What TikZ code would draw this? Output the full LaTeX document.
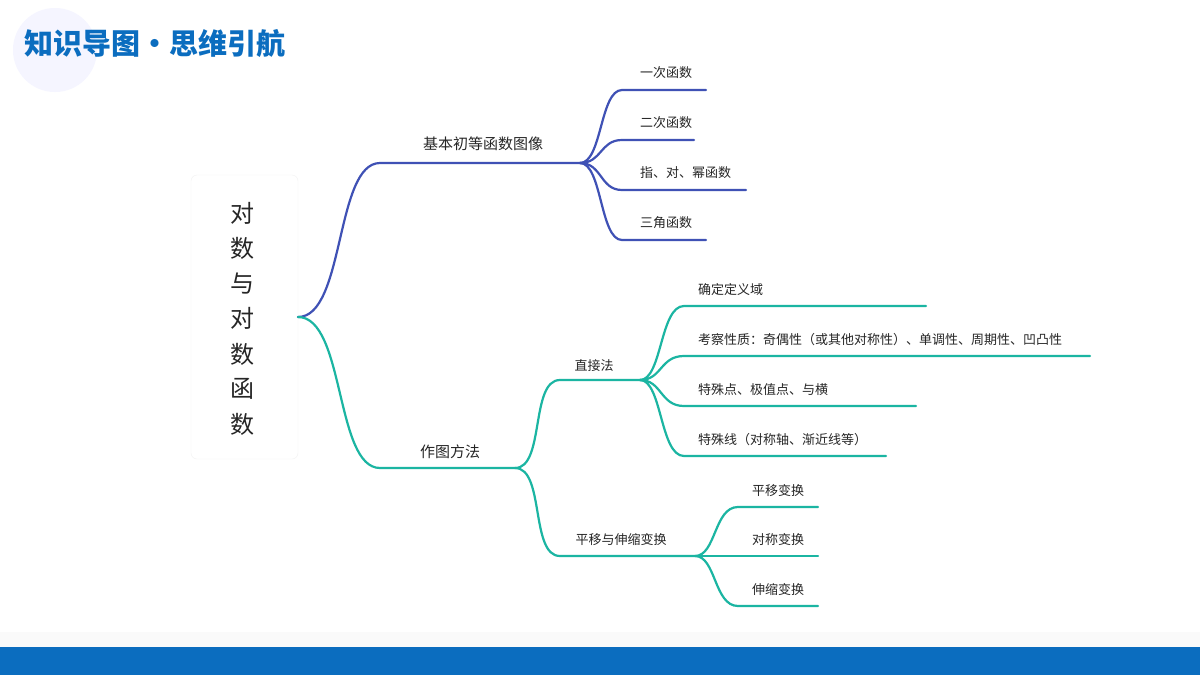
\documentclass[tikz,border=0pt]{standalone}
\usepackage{fontspec}
\setmainfont{Noto Sans CJK SC}
\definecolor{bc}{HTML}{3F51B5}
\definecolor{tc}{HTML}{1BB5A2}
\definecolor{hb}{HTML}{0B6DBF}
\begin{document}
\begin{tikzpicture}[x=1pt,y=-1pt,
  bl/.style={draw=bc, line width=2.2pt, line cap=round},
  tl/.style={draw=tc, line width=2.2pt, line cap=round},
  lab/.style={font=\fontsize{13}{15}\selectfont, text=black!85, inner sep=0pt},
  mlab/.style={font=\fontsize{15}{17}\selectfont, text=black!85, inner sep=0pt}]
\useasboundingbox (0,0) rectangle (1200,675);
\fill[white] (0,0) rectangle (1200,675);
\fill[blue!4] (55,50) circle (42);
\node[font=\fontsize{29}{31}\selectfont\bfseries, text=hb, anchor=west, inner sep=0pt] (title) at (24,44) {知识导图•思维引航};
\fill[black!2] (0,632) rectangle (1200,647);
\fill[hb] (0,647) rectangle (1200,675);
% root
\node[draw=black!5, fill=white, rounded corners=6pt, minimum width=107, minimum height=284] (root) at (244.5,317) {};
\foreach \c [count=\i] in {对,数,与,对,数,函,数}
  \node[font=\fontsize{24}{26}\selectfont, text=black!85, inner sep=0pt] (r\i) at (242,178+\i*35.2) {\c};
\coordinate (R) at (298,317);
% blue
\coordinate (B0) at (380,163); \coordinate (B1) at (580,163);
\draw[bl] (R) .. controls (345,317) and (335,163) .. (B0) -- (B1);
\node[mlab] (bt) at (483,144) {基本初等函数图像};
\foreach \y/\xe/\t [count=\i] in {90/706/一次函数,140/694/二次函数,190/746/指、对、幂函数,240/706/三角函数}{
  \coordinate (bs\i) at (622,\y); \coordinate (be\i) at (\xe,\y);
  \draw[bl] (B1) .. controls (602,163) and (600,\y) .. (bs\i) -- (be\i);
  \node[lab, anchor=west] (bl\i) at (640,\y-17) {\t};
}
% teal
\coordinate (T0) at (380,468); \coordinate (T1) at (515,468);
\draw[tl] (R) .. controls (345,317) and (335,468) .. (T0) -- (T1);
\node[mlab] (tt) at (450,452) {作图方法};
\coordinate (D0) at (560,380); \coordinate (D1) at (640,380);
\draw[tl] (T1) .. controls (545,468) and (530,380) .. (D0) -- (D1);
\node[lab] (dl) at (594,366) {直接法};
\coordinate (P0) at (560,556); \coordinate (P1) at (695,556);
\draw[tl] (T1) .. controls (545,468) and (530,556) .. (P0) -- (P1);
\node[lab] (pl) at (621,540) {平移与伸缩变换};
\foreach \y/\xe/\t [count=\i] in {306/926/确定定义域,356/1090/考察性质：奇偶性（或其他对称性）、单调性、周期性、凹凸性,406/916/特殊点、极值点、与横/纵坐标交点,456/886/特殊线（对称轴、渐近线等）}{
  \coordinate (ds\i) at (684,\y); \coordinate (de\i) at (\xe,\y);
  \draw[tl] (D1) .. controls (662,380) and (660,\y) .. (ds\i) -- (de\i);
  \node[lab, anchor=west] (dn\i) at (698,\y-16) {\t};
}
\foreach \y/\t [count=\i] in {507/平移变换,556/对称变换,606/伸缩变换}{
  \coordinate (ps\i) at (738,\y); \coordinate (pe\i) at (818,\y);
  \draw[tl] (P1) .. controls (716,556) and (714,\y) .. (ps\i) -- (pe\i);
  \node[lab, anchor=west] (pn\i) at (752,\y-16) {\t};
}
\end{tikzpicture}
\end{document}
